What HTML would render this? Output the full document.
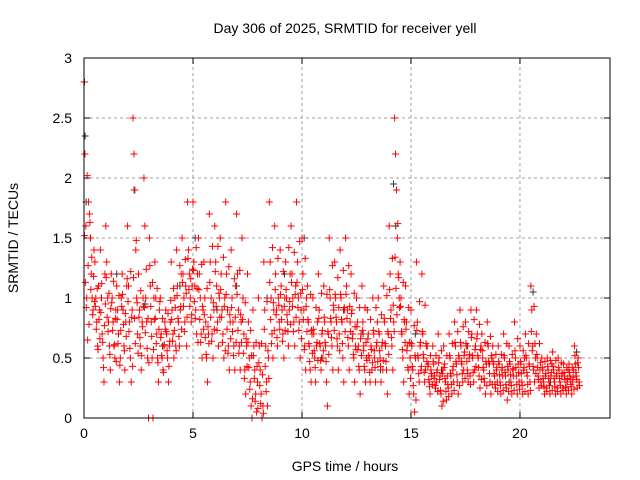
<!DOCTYPE html>
<html><head><meta charset="utf-8"><style>
body{margin:0;background:#fff;}
svg{display:block;font-family:"Liberation Sans",sans-serif;}
</style></head><body>
<svg id="chart" width="640" height="480" viewBox="0 0 640 480">
<text x="345" y="33" font-size="14" text-anchor="middle">Day 306 of 2025, SRMTID for receiver yell</text>
<text x="345" y="471" font-size="14" text-anchor="middle">GPS time / hours</text>
<text transform="translate(18,238) rotate(-90)" font-size="14" text-anchor="middle">SRMTID / TECUs</text>
<g id="grid"></g><g id="ticks"></g><g id="black"></g><g id="red"></g>
<rect x="84" y="58" width="526" height="360" fill="none" stroke="#000" stroke-width="1"/>
</svg>
<script>
const xTicks=[0,5,10,15,20];
const yTicks=[0,0.5,1,1.5,2,2.5,3];
const yTickLabels=["0","0.5","1","1.5","2","2.5","3"];
const binStart=0, binWidth=0.25;
const redBins=[
[2.8,2.2,1.6,1.0,0.65,1.8],[1.7,1.5,1.2,1.0,0.9,1.4],[1.3,1.0,0.8,0.6,1.1,0.9],[1.4,1.0,0.7,0.5,0.3,1.2],
[1.6,1.3,1.0,0.8,0.6,0.4],[1.2,1.0,0.8,0.6,0.5,0.9],[1.1,0.9,0.7,0.3,0.5,1.0],[1.2,0.9,0.6,0.4,0.8,1.1],
[1.6,1.1,0.8,0.5,0.3,0.9],[2.5,2.2,1.9,1.4,1.0,0.7],[1.2,0.9,0.6,0.4,0.8,1.0],[2.0,1.6,1.0,0.8,0.5,0.0],
[1.5,1.1,0.8,0.5,0.0,1.0],[1.3,1.0,0.7,0.5,0.3,0.9],[1.0,0.7,0.5,0.4,0.6,0.8],[0.9,0.7,0.5,0.3,0.6,0.8],
[1.3,0.9,0.7,0.5,1.0,0.6],[1.4,1.1,0.8,0.6,0.9,1.2],[1.5,1.2,1.0,0.8,1.1,0.6],[1.8,1.4,1.2,1.0,0.8,1.1],
[1.8,1.3,1.1,0.9,0.7,1.2],[1.5,1.2,1.0,0.7,0.5,0.9],[1.3,1.0,0.8,0.5,0.3,0.7],[1.7,1.3,1.0,0.7,0.5,0.9],
[1.6,1.3,1.1,0.8,0.6,1.0],[1.5,1.2,0.9,0.7,0.5,1.0],[1.8,1.2,0.9,0.6,0.4,0.8],[1.4,1.0,0.8,0.6,0.4,1.1],
[1.7,1.2,0.9,0.6,0.4,0.8],[1.5,1.0,0.7,0.4,0.2,0.6],[1.2,0.8,0.5,0.3,0.1,0.0],[0.9,0.6,0.4,0.2,0.05,0.3],
[1.0,0.6,0.4,0.2,0.0,0.1],[1.3,0.9,0.6,0.3,0.1,0.5],[1.8,1.3,1.0,0.7,0.5,0.9],[1.6,1.2,0.9,0.6,1.0,0.8],
[1.4,1.1,0.9,0.7,0.5,1.0],[1.3,1.0,0.8,0.6,0.9,1.2],[1.6,1.2,1.0,0.8,0.6,1.1],[1.8,1.3,1.0,0.8,0.5,0.9],
[1.5,1.2,0.9,0.6,0.4,1.0],[1.1,0.8,0.6,0.4,0.3,0.7],[1.0,0.7,0.5,0.3,0.6,0.8],[1.2,0.9,0.6,0.4,0.7,0.5],
[1.1,0.8,0.6,0.3,0.1,0.7],[1.5,1.0,0.8,0.6,0.4,0.9],[1.3,1.0,0.8,0.6,0.4,0.7],[1.4,1.0,0.8,0.5,0.3,0.9],
[1.5,1.1,0.9,0.6,0.4,0.8],[1.2,0.9,0.7,0.5,0.3,0.6],[1.0,0.8,0.6,0.4,0.2,0.7],[1.1,0.8,0.6,0.4,0.3,0.5],
[0.9,0.7,0.5,0.3,0.6,0.4],[1.0,0.7,0.5,0.3,0.6,0.8],[1.0,0.7,0.5,0.3,0.6,0.4],[1.1,0.8,0.6,0.4,0.2,0.7],
[1.6,1.2,0.9,0.6,0.4,0.8],[2.5,2.2,1.9,1.5,1.2,1.0],[1.3,1.0,0.7,0.5,0.3,0.8],[1.1,0.8,0.6,0.4,0.2,0.5],
[0.9,0.6,0.4,0.2,0.05,0.5],[1.3,0.8,0.5,0.3,0.6,0.4],[1.2,0.7,0.5,0.3,0.4,0.6],[0.6,0.45,0.3,0.2,0.4,0.35],
[0.6,0.45,0.35,0.25,0.3,0.4],[0.7,0.5,0.35,0.2,0.1,0.4],[0.6,0.45,0.3,0.15,0.35,0.25],[0.7,0.5,0.35,0.2,0.4,0.3],
[0.8,0.6,0.45,0.3,0.2,0.5],[0.9,0.6,0.45,0.3,0.4,0.55],[0.8,0.6,0.4,0.3,0.5,0.35],[0.9,0.7,0.5,0.3,0.4,0.6],
[0.9,0.7,0.5,0.35,0.25,0.6],[0.7,0.5,0.4,0.3,0.2,0.45],[0.8,0.6,0.45,0.3,0.2,0.5],[0.6,0.45,0.35,0.25,0.4,0.3],
[0.6,0.45,0.3,0.2,0.4,0.35],[0.7,0.5,0.35,0.25,0.15,0.4],[0.6,0.45,0.3,0.2,0.4,0.35],[0.8,0.5,0.35,0.2,0.45,0.3],
[0.6,0.45,0.3,0.2,0.4,0.5],[0.7,0.5,0.35,0.2,0.45,0.3],[1.1,0.9,0.6,0.4,0.3,0.5],[0.7,0.5,0.35,0.25,0.4,0.3],
[0.5,0.4,0.3,0.2,0.35,0.25],[0.5,0.4,0.3,0.2,0.35,0.45],[0.55,0.4,0.3,0.2,0.35,0.25],[0.5,0.4,0.3,0.2,0.35,0.25],
[0.45,0.35,0.25,0.2,0.3,0.4],[0.45,0.35,0.28,0.2,0.3,0.4],[0.6,0.45,0.35,0.25,0.5,0.3]
];
const redBins2=[
[1.52,1.13,0.92,2.02,1.27,0.78],[1.63,1.07,1.34,0.86,1.18,0.97],[0.93,0.74,1.08,0.57,0.82,0.66],[0.88,1.12,0.63,0.42,0.77,0.95],
[1.17,0.84,0.72,1.04,0.53,0.91],[0.96,0.73,1.14,0.61,0.83,0.47],[0.82,0.62,1.02,0.44,0.73,0.93],[1.03,0.78,0.56,0.87,0.68,1.16],
[0.97,0.72,0.58,1.22,0.84,0.43],[1.17,0.83,0.62,1.48,0.96,0.54],[0.84,0.67,1.06,0.52,0.76,0.93],[0.92,0.71,1.24,0.58,0.83,0.46],
[1.27,0.93,0.68,1.13,0.57,0.82],[0.83,0.62,1.08,0.46,0.74,0.97],[0.67,0.52,0.83,0.38,0.61,0.74],[0.72,0.56,0.87,0.43,0.64,0.98],
[0.82,0.64,1.08,0.73,0.92,0.56],[1.02,0.83,0.68,1.27,0.93,0.74],[1.13,0.93,0.72,1.32,1.04,0.84],[1.33,1.07,0.93,1.16,0.86,1.24],
[1.23,0.97,0.83,1.42,1.08,0.63],[1.07,0.82,0.63,1.28,0.93,0.74],[0.86,0.67,0.53,1.08,0.76,0.62],[1.13,0.84,0.64,1.43,0.96,0.74],
[1.22,0.93,0.73,1.43,1.04,0.84],[1.07,0.84,0.63,1.34,0.93,0.56],[1.03,0.74,0.54,1.26,0.86,0.66],[0.92,0.72,0.52,1.16,0.84,0.63],
[1.03,0.73,0.54,1.23,0.86,0.63],[0.82,0.54,0.33,0.96,0.66,0.43],[0.63,0.42,0.24,0.73,0.52,0.16],[0.52,0.33,0.14,0.63,0.43,0.08],
[0.46,0.27,0.12,0.62,0.36,0.04],[0.74,0.43,0.22,0.97,0.56,0.33],[1.13,0.82,0.62,1.42,0.96,0.73],[1.07,0.86,0.67,1.33,0.94,0.74],
[1.03,0.82,0.64,1.22,0.93,0.73],[1.07,0.86,0.72,1.42,0.97,0.78],[1.13,0.93,0.72,1.38,1.03,0.84],[1.13,0.92,0.73,1.47,1.04,0.66],
[1.07,0.82,0.57,1.33,0.93,0.72],[0.82,0.62,0.47,1.03,0.73,0.54],[0.74,0.56,0.42,0.92,0.63,0.48],[0.83,0.62,0.48,1.04,0.73,0.56],
[0.84,0.63,0.47,1.03,0.72,0.53],[1.07,0.83,0.67,1.27,0.94,0.73],[1.03,0.84,0.66,1.17,0.92,0.56],[1.03,0.82,0.62,1.23,0.92,0.72],
[1.03,0.83,0.67,1.27,0.93,0.72],[0.87,0.66,0.53,1.04,0.76,0.57],[0.76,0.57,0.43,0.92,0.66,0.52],[0.73,0.56,0.43,0.92,0.63,0.48],
[0.66,0.52,0.38,0.82,0.57,0.46],[0.73,0.56,0.42,0.92,0.63,0.47],[0.72,0.56,0.43,0.86,0.63,0.48],[0.83,0.62,0.47,1.02,0.72,0.53],
[1.07,0.83,0.67,1.33,0.94,0.72],[1.34,1.08,0.86,1.62,1.17,0.92],[0.93,0.72,0.57,1.13,0.82,0.63],[0.74,0.56,0.42,0.92,0.63,0.33],
[0.62,0.43,0.27,0.77,0.52,0.15],[0.73,0.52,0.37,0.97,0.63,0.43],[0.72,0.53,0.38,0.94,0.62,0.47],[0.43,0.32,0.26,0.52,0.37,0.28],
[0.47,0.33,0.27,0.52,0.38,0.22],[0.46,0.32,0.23,0.56,0.37,0.14],[0.42,0.33,0.22,0.52,0.28,0.18],[0.52,0.37,0.28,0.62,0.43,0.23],
[0.63,0.47,0.36,0.72,0.52,0.27],[0.63,0.47,0.37,0.76,0.52,0.33],[0.62,0.47,0.37,0.72,0.53,0.28],[0.67,0.52,0.38,0.82,0.57,0.43],
[0.66,0.52,0.42,0.78,0.57,0.32],[0.56,0.42,0.33,0.63,0.47,0.27],[0.62,0.47,0.37,0.68,0.52,0.28],[0.47,0.37,0.28,0.53,0.42,0.22],
[0.47,0.36,0.27,0.53,0.42,0.23],[0.52,0.38,0.28,0.62,0.43,0.22],[0.47,0.36,0.27,0.53,0.41,0.23],[0.56,0.42,0.28,0.66,0.38,0.24],
[0.47,0.37,0.27,0.56,0.42,0.22],[0.52,0.38,0.28,0.62,0.43,0.23],[0.72,0.56,0.43,0.93,0.62,0.37],[0.53,0.42,0.32,0.62,0.46,0.27],
[0.42,0.33,0.26,0.47,0.37,0.22],[0.43,0.33,0.27,0.48,0.38,0.23],[0.43,0.33,0.26,0.48,0.37,0.22],[0.42,0.33,0.27,0.46,0.37,0.23],
[0.38,0.32,0.26,0.42,0.33,0.23],[0.38,0.32,0.26,0.42,0.34,0.24],[0.52,0.38,0.32,0.46,0.42,0.27]
];
const blackTimes=[0.02,0.05,0.1,0.3,0.8,1.5,2.3,2.8,3.6,4.4,5.1,6.1,7.0,8.4,9.2,10.1,10.9,11.9,12.8,13.6,14.2,14.3,15.2,16.4,17.6,18.6,19.5,20.6,21.4,22.6];
const blackValues=[2.8,2.35,1.8,1.5,1.0,1.2,1.9,0.95,0.6,1.1,1.5,0.9,1.1,1.0,1.2,1.5,0.5,0.9,0.7,0.4,1.95,1.6,0.7,0.4,0.6,0.45,0.3,1.05,0.3,0.55];

const NS="http://www.w3.org/2000/svg";
const X0=84,X1=610,Y0=418,Y1=58,XMAX=24.13,YMAX=3;
const sx=v=>X0+v/XMAX*(X1-X0), sy=v=>Y0-v/YMAX*(Y0-Y1);
function mk(tag,attrs,parent){const e=document.createElementNS(NS,tag);for(const k in attrs)e.setAttribute(k,attrs[k]);parent.appendChild(e);return e;}
const grid=document.getElementById('grid'),ticks=document.getElementById('ticks');
xTicks.forEach(t=>{
  const x=sx(t);
  if(t>0){const g=mk('line',{x1:x,x2:x,y1:Y0,y2:Y1,stroke:'#a0a0a0','stroke-dasharray':'3,3'},grid);
  
  }
  const l=mk('line',{x1:x,x2:x,y1:Y0,y2:Y0-6,stroke:'#000'},ticks);
  
  
  const l2=mk('line',{x1:x,x2:x,y1:Y1,y2:Y1+6,stroke:'#000'},ticks);
  
  
  const tx=mk('text',{x:x,y:Y0+20,'font-size':14,'text-anchor':'middle'},ticks);tx.textContent=t;
  
  
});
yTicks.forEach((t,i)=>{
  const y=sy(t);
  if(t>0&&t<3){const g=mk('line',{x1:X0,x2:X1,y1:y,y2:y,stroke:'#a0a0a0','stroke-dasharray':'3,3'},grid);
  
  }
  const l=mk('line',{x1:X0,x2:X0+6,y1:y,y2:y,stroke:'#000'},ticks);
  
  
  const l2=mk('line',{x1:X1,x2:X1-6,y1:y,y2:y,stroke:'#000'},ticks);
  
  
  const tx=mk('text',{x:X0-12,y:y+5,'font-size':14,'text-anchor':'end'},ticks);tx.textContent=yTickLabels[i];
  
  
});
function plus(x,y,color,parent){
  return mk('path',{d:`M${x-3.5},${y}H${x+3.5}M${x},${y-3.5}V${y+3.5}`,stroke:color,'stroke-width':1,fill:'none'},parent);
}
const blk=document.getElementById('black');
blackTimes.forEach((t,i)=>{
  const p=plus(sx(t),sy(blackValues[i]),'#333',blk);
  
  
});
const red=document.getElementById('red');
function drawBins(bins,offset){
  bins.forEach((vals,b)=>{
    vals.forEach((v,i)=>{
      const t=binStart+b*binWidth+offset+i*binWidth/vals.length;
      const p=plus(sx(t),sy(v),'#ff0000',red);
      
      
    });
  });
}
drawBins(redBins,0);
drawBins(redBins2,binWidth/12);
</script>
</body></html>
